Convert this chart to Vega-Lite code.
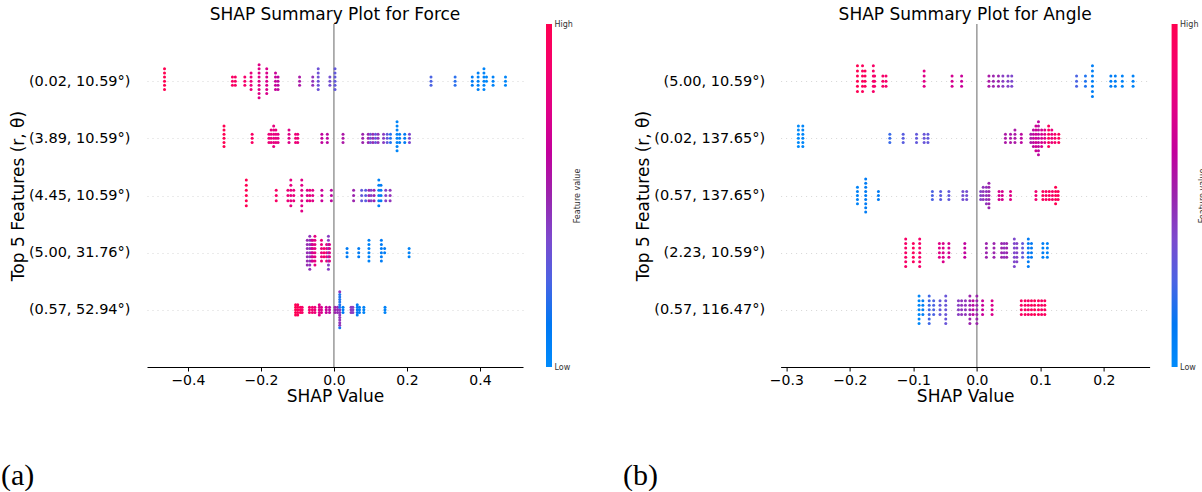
{
"$schema":"https://vega.github.io/schema/vega-lite/v6.json",
"background":"white",
"padding":{"left":1,"top":6,"right":0,"bottom":0},
"config":{"font":"DejaVu Sans","view":{"stroke":null},"axis":{"labelFont":"DejaVu Sans","titleFont":"DejaVu Sans"}},
"datasets":{
"F":[
{"x":-0.464,"y":4,"c":1},{"x":-0.464,"y":4.072,"c":1},{"x":-0.464,"y":3.928,"c":1},{"x":-0.464,"y":4.144,"c":1},{"x":-0.464,"y":3.856,"c":1},{"x":-0.464,"y":4.216,"c":1},
{"x":-0.278,"y":4,"c":0.92},{"x":-0.278,"y":4.072,"c":0.92},{"x":-0.278,"y":3.928,"c":0.92},
{"x":-0.27,"y":4,"c":0.92},{"x":-0.27,"y":4.072,"c":0.92},{"x":-0.27,"y":3.928,"c":0.92},
{"x":-0.244,"y":4,"c":0.88},{"x":-0.244,"y":4.072,"c":0.88},{"x":-0.244,"y":3.928,"c":0.88},
{"x":-0.227,"y":4,"c":0.8},{"x":-0.227,"y":4.072,"c":0.8},{"x":-0.227,"y":3.928,"c":0.8},{"x":-0.227,"y":4.144,"c":0.8},{"x":-0.227,"y":3.856,"c":0.8},
{"x":-0.205,"y":4,"c":0.75},{"x":-0.205,"y":4.072,"c":0.75},{"x":-0.205,"y":3.928,"c":0.75},{"x":-0.205,"y":4.144,"c":0.75},{"x":-0.205,"y":3.856,"c":0.75},{"x":-0.205,"y":4.216,"c":0.75},{"x":-0.205,"y":3.784,"c":0.75},{"x":-0.205,"y":4.288,"c":0.75},{"x":-0.205,"y":3.712,"c":0.75},
{"x":-0.184,"y":4,"c":0.72},{"x":-0.184,"y":4.072,"c":0.72},{"x":-0.184,"y":3.928,"c":0.72},{"x":-0.184,"y":4.144,"c":0.72},{"x":-0.184,"y":3.856,"c":0.72},{"x":-0.184,"y":4.216,"c":0.72},{"x":-0.184,"y":3.784,"c":0.72},
{"x":-0.16,"y":4,"c":0.65},{"x":-0.16,"y":4.072,"c":0.65},{"x":-0.16,"y":3.928,"c":0.65},{"x":-0.16,"y":4.144,"c":0.65},{"x":-0.16,"y":3.856,"c":0.65},
{"x":-0.153,"y":4,"c":0.6},{"x":-0.153,"y":4.072,"c":0.6},{"x":-0.153,"y":3.928,"c":0.6},{"x":-0.153,"y":3.856,"c":0.6},
{"x":-0.094,"y":4,"c":0.55},{"x":-0.094,"y":4.072,"c":0.55},{"x":-0.094,"y":3.928,"c":0.55},
{"x":-0.058,"y":4,"c":0.45},{"x":-0.058,"y":4.072,"c":0.45},{"x":-0.058,"y":3.928,"c":0.45},
{"x":-0.043,"y":4,"c":0.33},{"x":-0.043,"y":4.072,"c":0.33},{"x":-0.043,"y":3.928,"c":0.33},{"x":-0.043,"y":4.144,"c":0.33},{"x":-0.043,"y":3.856,"c":0.33},{"x":-0.043,"y":4.216,"c":0.33},
{"x":-0.011,"y":4,"c":0.35},{"x":-0.011,"y":4.072,"c":0.35},{"x":-0.011,"y":3.928,"c":0.35},
{"x":0.003,"y":4,"c":0.3},{"x":0.003,"y":4.072,"c":0.3},{"x":0.003,"y":3.928,"c":0.3},{"x":0.003,"y":4.144,"c":0.3},{"x":0.003,"y":3.856,"c":0.3},{"x":0.003,"y":4.216,"c":0.3},
{"x":0.266,"y":4,"c":0.25},{"x":0.266,"y":4.072,"c":0.25},{"x":0.266,"y":3.928,"c":0.25},
{"x":0.332,"y":4,"c":0.17},{"x":0.332,"y":4.072,"c":0.17},{"x":0.332,"y":3.928,"c":0.17},
{"x":0.379,"y":4,"c":0.1},{"x":0.379,"y":4.072,"c":0.1},{"x":0.379,"y":3.928,"c":0.1},
{"x":0.395,"y":4,"c":0.06},{"x":0.395,"y":4.072,"c":0.06},{"x":0.395,"y":3.928,"c":0.06},{"x":0.395,"y":4.144,"c":0.06},{"x":0.395,"y":3.856,"c":0.06},
{"x":0.411,"y":4,"c":0.04},{"x":0.411,"y":4.072,"c":0.04},{"x":0.411,"y":3.928,"c":0.04},{"x":0.411,"y":4.144,"c":0.04},{"x":0.411,"y":3.856,"c":0.04},{"x":0.411,"y":4.216,"c":0.04},
{"x":0.418,"y":4,"c":0.02},{"x":0.418,"y":4.072,"c":0.02},
{"x":0.436,"y":4,"c":0.05},{"x":0.436,"y":4.072,"c":0.05},{"x":0.436,"y":3.928,"c":0.05},
{"x":0.47,"y":4,"c":0.03},{"x":0.47,"y":4.072,"c":0.03},{"x":0.47,"y":3.928,"c":0.03},

{"x":-0.301,"y":3,"c":1},{"x":-0.301,"y":3.072,"c":1},{"x":-0.301,"y":2.928,"c":1},{"x":-0.301,"y":3.144,"c":1},{"x":-0.301,"y":2.856,"c":1},{"x":-0.301,"y":3.216,"c":1},
{"x":-0.224,"y":3,"c":0.92},{"x":-0.224,"y":3.072,"c":0.92},{"x":-0.224,"y":2.928,"c":0.92},
{"x":-0.178,"y":3,"c":0.82},{"x":-0.178,"y":3.072,"c":0.82},{"x":-0.178,"y":2.928,"c":0.82},
{"x":-0.172,"y":3,"c":0.8},{"x":-0.172,"y":3.072,"c":0.8},{"x":-0.172,"y":2.928,"c":0.8},{"x":-0.172,"y":3.144,"c":0.8},
{"x":-0.165,"y":3,"c":0.78},{"x":-0.165,"y":3.072,"c":0.78},{"x":-0.165,"y":2.928,"c":0.78},{"x":-0.165,"y":3.144,"c":0.78},{"x":-0.165,"y":2.856,"c":0.78},{"x":-0.165,"y":3.216,"c":0.78},
{"x":-0.159,"y":3,"c":0.8},{"x":-0.159,"y":3.072,"c":0.8},{"x":-0.159,"y":2.928,"c":0.8},{"x":-0.159,"y":3.144,"c":0.8},
{"x":-0.153,"y":3,"c":0.76},{"x":-0.153,"y":3.072,"c":0.76},{"x":-0.153,"y":2.928,"c":0.76},
{"x":-0.123,"y":3,"c":0.74},{"x":-0.123,"y":3.072,"c":0.74},{"x":-0.123,"y":2.928,"c":0.74},{"x":-0.123,"y":3.144,"c":0.74},
{"x":-0.105,"y":3,"c":0.85},{"x":-0.105,"y":3.072,"c":0.85},{"x":-0.105,"y":2.928,"c":0.85},
{"x":-0.099,"y":3,"c":0.8},{"x":-0.099,"y":3.072,"c":0.8},{"x":-0.099,"y":2.928,"c":0.8},
{"x":-0.033,"y":3,"c":0.62},{"x":-0.033,"y":3.072,"c":0.62},{"x":-0.033,"y":2.928,"c":0.62},
{"x":-0.018,"y":3,"c":0.6},{"x":-0.018,"y":3.072,"c":0.6},{"x":-0.018,"y":2.928,"c":0.6},
{"x":0.025,"y":3,"c":0.55},{"x":0.025,"y":3.072,"c":0.55},{"x":0.025,"y":2.928,"c":0.55},
{"x":0.079,"y":3,"c":0.5},{"x":0.079,"y":3.072,"c":0.5},{"x":0.079,"y":2.928,"c":0.5},
{"x":0.094,"y":3,"c":0.5},{"x":0.094,"y":3.072,"c":0.5},{"x":0.094,"y":2.928,"c":0.5},
{"x":0.1,"y":3,"c":0.33},{"x":0.1,"y":3.072,"c":0.33},{"x":0.1,"y":2.928,"c":0.33},
{"x":0.107,"y":3,"c":0.48},{"x":0.107,"y":3.072,"c":0.48},{"x":0.107,"y":2.928,"c":0.48},
{"x":0.114,"y":3,"c":0.3},{"x":0.114,"y":3.072,"c":0.3},{"x":0.114,"y":2.928,"c":0.3},
{"x":0.121,"y":3,"c":0.45},{"x":0.121,"y":3.072,"c":0.45},{"x":0.121,"y":2.928,"c":0.45},
{"x":0.136,"y":3,"c":0.42},{"x":0.136,"y":3.072,"c":0.42},{"x":0.136,"y":2.928,"c":0.42},
{"x":0.146,"y":3,"c":0.3},{"x":0.146,"y":3.072,"c":0.3},{"x":0.146,"y":2.928,"c":0.3},
{"x":0.155,"y":3,"c":0.15},{"x":0.155,"y":3.072,"c":0.15},{"x":0.155,"y":2.928,"c":0.15},
{"x":0.173,"y":3,"c":0.03},{"x":0.173,"y":3.072,"c":0.03},{"x":0.173,"y":2.928,"c":0.03},{"x":0.173,"y":3.144,"c":0.03},{"x":0.173,"y":2.856,"c":0.03},{"x":0.173,"y":3.216,"c":0.03},{"x":0.173,"y":2.784,"c":0.03},{"x":0.173,"y":3.288,"c":0.03},
{"x":0.18,"y":3,"c":0.08},{"x":0.18,"y":3.072,"c":0.08},{"x":0.18,"y":2.928,"c":0.08},
{"x":0.194,"y":3,"c":0.1},{"x":0.194,"y":3.072,"c":0.1},{"x":0.194,"y":2.928,"c":0.1},
{"x":0.207,"y":3,"c":0.38},{"x":0.207,"y":3.072,"c":0.38},{"x":0.207,"y":2.928,"c":0.38},

{"x":-0.24,"y":2,"c":1},{"x":-0.24,"y":2.09,"c":1},{"x":-0.24,"y":1.91,"c":1},{"x":-0.24,"y":2.18,"c":1},{"x":-0.24,"y":1.82,"c":1},{"x":-0.24,"y":2.27,"c":1},
{"x":-0.158,"y":2,"c":0.92},{"x":-0.158,"y":2.09,"c":0.92},{"x":-0.158,"y":1.91,"c":0.92},
{"x":-0.126,"y":2,"c":0.82},{"x":-0.126,"y":2.09,"c":0.82},{"x":-0.126,"y":1.91,"c":0.82},
{"x":-0.118,"y":2,"c":0.78},{"x":-0.118,"y":2.09,"c":0.78},{"x":-0.118,"y":1.91,"c":0.78},{"x":-0.118,"y":2.18,"c":0.78},{"x":-0.118,"y":1.82,"c":0.78},{"x":-0.118,"y":2.27,"c":0.78},
{"x":-0.11,"y":2,"c":0.8},{"x":-0.11,"y":2.09,"c":0.8},{"x":-0.11,"y":1.91,"c":0.8},
{"x":-0.088,"y":2,"c":0.75},{"x":-0.088,"y":2.09,"c":0.75},{"x":-0.088,"y":1.91,"c":0.75},{"x":-0.088,"y":2.18,"c":0.75},{"x":-0.088,"y":1.82,"c":0.75},{"x":-0.088,"y":2.27,"c":0.75},{"x":-0.088,"y":1.73,"c":0.75},
{"x":-0.073,"y":2,"c":0.72},{"x":-0.073,"y":2.09,"c":0.72},{"x":-0.073,"y":1.91,"c":0.72},
{"x":-0.066,"y":2,"c":0.8},{"x":-0.066,"y":2.09,"c":0.8},{"x":-0.066,"y":1.91,"c":0.8},
{"x":-0.058,"y":2,"c":0.75},{"x":-0.058,"y":2.09,"c":0.75},{"x":-0.058,"y":1.91,"c":0.75},
{"x":-0.033,"y":2,"c":0.65},{"x":-0.033,"y":2.09,"c":0.65},{"x":-0.033,"y":1.91,"c":0.65},
{"x":-0.007,"y":2,"c":0.6},{"x":-0.007,"y":2.09,"c":0.6},{"x":-0.007,"y":1.91,"c":0.6},
{"x":0.054,"y":2,"c":0.5},{"x":0.054,"y":2.09,"c":0.5},{"x":0.054,"y":1.91,"c":0.5},
{"x":0.076,"y":2,"c":0.3},{"x":0.076,"y":2.09,"c":0.3},{"x":0.076,"y":1.91,"c":0.3},
{"x":0.087,"y":2,"c":0.28},{"x":0.087,"y":2.09,"c":0.28},{"x":0.087,"y":1.91,"c":0.28},
{"x":0.096,"y":2,"c":0.5},{"x":0.096,"y":2.09,"c":0.5},{"x":0.096,"y":1.91,"c":0.5},
{"x":0.102,"y":2,"c":0.4},{"x":0.102,"y":2.09,"c":0.4},{"x":0.102,"y":1.91,"c":0.4},
{"x":0.11,"y":2,"c":0.5},{"x":0.11,"y":2.09,"c":0.5},{"x":0.11,"y":1.91,"c":0.5},
{"x":0.123,"y":2,"c":0.05},{"x":0.123,"y":2.09,"c":0.05},{"x":0.123,"y":1.91,"c":0.05},{"x":0.123,"y":2.18,"c":0.05},{"x":0.123,"y":1.82,"c":0.05},{"x":0.123,"y":2.27,"c":0.05},
{"x":0.129,"y":2,"c":0.1},{"x":0.129,"y":2.09,"c":0.1},{"x":0.129,"y":1.91,"c":0.1},{"x":0.129,"y":2.18,"c":0.1},
{"x":0.142,"y":2,"c":0.4},{"x":0.142,"y":2.09,"c":0.4},{"x":0.142,"y":1.91,"c":0.4},
{"x":0.154,"y":2,"c":0.45},{"x":0.154,"y":2.09,"c":0.45},{"x":0.154,"y":1.91,"c":0.45},

{"x":-0.073,"y":1,"c":0.48},{"x":-0.073,"y":1.072,"c":0.48},{"x":-0.073,"y":0.928,"c":0.48},{"x":-0.073,"y":1.144,"c":0.48},{"x":-0.073,"y":0.856,"c":0.48},{"x":-0.073,"y":1.216,"c":0.48},{"x":-0.073,"y":0.784,"c":0.48},
{"x":-0.066,"y":1,"c":0.45},{"x":-0.066,"y":1.072,"c":0.45},{"x":-0.066,"y":0.928,"c":0.45},{"x":-0.066,"y":1.144,"c":0.45},{"x":-0.066,"y":0.856,"c":0.45},{"x":-0.066,"y":1.216,"c":0.45},{"x":-0.066,"y":0.784,"c":0.45},{"x":-0.066,"y":1.288,"c":0.45},{"x":-0.066,"y":0.712,"c":0.45},
{"x":-0.061,"y":1,"c":0.6},{"x":-0.061,"y":1.072,"c":0.6},{"x":-0.061,"y":0.928,"c":0.6},{"x":-0.061,"y":1.144,"c":0.6},{"x":-0.061,"y":0.856,"c":0.6},{"x":-0.061,"y":1.216,"c":0.6},
{"x":-0.058,"y":1,"c":0.7},{"x":-0.058,"y":1.072,"c":0.7},{"x":-0.058,"y":0.928,"c":0.7},{"x":-0.058,"y":1.144,"c":0.7},{"x":-0.058,"y":0.856,"c":0.7},{"x":-0.058,"y":1.216,"c":0.7},
{"x":-0.052,"y":1,"c":0.78},{"x":-0.052,"y":1.072,"c":0.78},{"x":-0.052,"y":0.928,"c":0.78},{"x":-0.052,"y":1.144,"c":0.78},{"x":-0.052,"y":0.856,"c":0.78},{"x":-0.052,"y":1.216,"c":0.78},{"x":-0.052,"y":0.784,"c":0.78},{"x":-0.052,"y":1.288,"c":0.78},
{"x":-0.034,"y":1,"c":0.8},{"x":-0.034,"y":1.072,"c":0.8},{"x":-0.034,"y":0.928,"c":0.8},{"x":-0.034,"y":1.144,"c":0.8},{"x":-0.034,"y":0.856,"c":0.8},{"x":-0.034,"y":1.216,"c":0.8},
{"x":-0.027,"y":1,"c":0.88},{"x":-0.027,"y":1.072,"c":0.88},{"x":-0.027,"y":0.928,"c":0.88},
{"x":-0.02,"y":1,"c":0.82},{"x":-0.02,"y":1.072,"c":0.82},{"x":-0.02,"y":0.928,"c":0.82},{"x":-0.02,"y":1.144,"c":0.82},{"x":-0.02,"y":0.856,"c":0.82},
{"x":-0.015,"y":1,"c":0.42},{"x":-0.015,"y":1.072,"c":0.42},{"x":-0.015,"y":0.928,"c":0.42},{"x":-0.015,"y":1.144,"c":0.42},{"x":-0.015,"y":0.856,"c":0.42},{"x":-0.015,"y":1.216,"c":0.42},{"x":-0.015,"y":0.784,"c":0.42},{"x":-0.015,"y":1.288,"c":0.42},{"x":-0.015,"y":0.712,"c":0.42},
{"x":-0.012,"y":1,"c":0.75},{"x":-0.012,"y":1.072,"c":0.75},{"x":-0.012,"y":0.928,"c":0.75},{"x":-0.012,"y":1.144,"c":0.75},{"x":-0.012,"y":0.856,"c":0.75},
{"x":0.036,"y":1,"c":0.1},{"x":0.036,"y":1.072,"c":0.1},{"x":0.036,"y":0.928,"c":0.1},
{"x":0.068,"y":1,"c":0.1},{"x":0.068,"y":1.072,"c":0.1},{"x":0.068,"y":0.928,"c":0.1},
{"x":0.096,"y":1,"c":0.05},{"x":0.096,"y":1.072,"c":0.05},{"x":0.096,"y":0.928,"c":0.05},{"x":0.096,"y":1.144,"c":0.05},{"x":0.096,"y":0.856,"c":0.05},{"x":0.096,"y":1.216,"c":0.05},
{"x":0.13,"y":1,"c":0.1},{"x":0.13,"y":1.072,"c":0.1},{"x":0.13,"y":0.928,"c":0.1},{"x":0.13,"y":1.144,"c":0.1},{"x":0.13,"y":0.856,"c":0.1},{"x":0.13,"y":1.216,"c":0.1},
{"x":0.139,"y":1,"c":0.1},{"x":0.139,"y":1.072,"c":0.1},
{"x":0.206,"y":1,"c":0.05},{"x":0.206,"y":1.072,"c":0.05},{"x":0.206,"y":0.928,"c":0.05},

{"x":-0.105,"y":0,"c":1},{"x":-0.105,"y":0.045,"c":1},{"x":-0.105,"y":-0.045,"c":1},{"x":-0.105,"y":0.09,"c":1},{"x":-0.105,"y":-0.09,"c":1},
{"x":-0.099,"y":0,"c":0.95},{"x":-0.099,"y":0.045,"c":0.95},{"x":-0.099,"y":-0.045,"c":0.95},{"x":-0.099,"y":0.09,"c":0.95},{"x":-0.099,"y":-0.09,"c":0.95},
{"x":-0.092,"y":0,"c":0.95},{"x":-0.092,"y":0.045,"c":0.95},{"x":-0.092,"y":-0.045,"c":0.95},
{"x":-0.087,"y":0,"c":0.9},{"x":-0.087,"y":0.045,"c":0.9},{"x":-0.087,"y":-0.045,"c":0.9},
{"x":-0.067,"y":0,"c":0.88},{"x":-0.067,"y":0.045,"c":0.88},{"x":-0.067,"y":-0.045,"c":0.88},
{"x":-0.059,"y":0,"c":0.85},{"x":-0.059,"y":0.045,"c":0.85},{"x":-0.059,"y":-0.045,"c":0.85},
{"x":-0.052,"y":0,"c":0.82},{"x":-0.052,"y":0.045,"c":0.82},{"x":-0.052,"y":-0.045,"c":0.82},
{"x":-0.04,"y":0,"c":0.75},{"x":-0.04,"y":0.045,"c":0.75},{"x":-0.04,"y":-0.045,"c":0.75},{"x":-0.04,"y":0.09,"c":0.75},{"x":-0.04,"y":-0.09,"c":0.75},
{"x":-0.034,"y":0,"c":0.72},{"x":-0.034,"y":0.045,"c":0.72},{"x":-0.034,"y":-0.045,"c":0.72},
{"x":-0.021,"y":0,"c":0.65},{"x":-0.021,"y":0.045,"c":0.65},{"x":-0.021,"y":-0.045,"c":0.65},
{"x":-0.012,"y":0,"c":0.6},{"x":-0.012,"y":0.045,"c":0.6},{"x":-0.012,"y":-0.045,"c":0.6},
{"x":0.003,"y":0,"c":0.5},{"x":0.003,"y":0.045,"c":0.5},{"x":0.003,"y":-0.045,"c":0.5},
{"x":0.01,"y":0,"c":0.48},{"x":0.01,"y":0.045,"c":0.48},{"x":0.01,"y":-0.045,"c":0.48},
{"x":0.016,"y":0,"c":0.45},{"x":0.016,"y":0.045,"c":0.15},{"x":0.016,"y":-0.045,"c":0.45},{"x":0.016,"y":0.09,"c":0.15},{"x":0.016,"y":-0.09,"c":0.45},{"x":0.016,"y":0.135,"c":0.15},{"x":0.016,"y":-0.135,"c":0.45},{"x":0.016,"y":0.18,"c":0.15},{"x":0.016,"y":-0.18,"c":0.45},{"x":0.016,"y":0.225,"c":0.15},{"x":0.016,"y":-0.225,"c":0.45},{"x":0.016,"y":0.27,"c":0.15},{"x":0.016,"y":-0.27,"c":0.45},{"x":0.016,"y":0.315,"c":0.45},{"x":0.016,"y":-0.315,"c":0.15},
{"x":0.025,"y":0,"c":0.1},{"x":0.025,"y":0.045,"c":0.1},{"x":0.025,"y":-0.045,"c":0.1},
{"x":0.047,"y":0,"c":0.45},{"x":0.047,"y":0.045,"c":0.45},{"x":0.047,"y":-0.045,"c":0.45},
{"x":0.052,"y":0,"c":0.42},{"x":0.052,"y":0.045,"c":0.42},{"x":0.052,"y":-0.045,"c":0.42},
{"x":0.064,"y":0,"c":0.1},{"x":0.064,"y":0.045,"c":0.1},{"x":0.064,"y":-0.045,"c":0.1},{"x":0.064,"y":0.09,"c":0.1},{"x":0.064,"y":-0.09,"c":0.1},
{"x":0.07,"y":0,"c":0.08},{"x":0.07,"y":0.045,"c":0.08},{"x":0.07,"y":-0.045,"c":0.08},
{"x":0.082,"y":0,"c":0.05},{"x":0.082,"y":0.045,"c":0.05},{"x":0.082,"y":-0.045,"c":0.05},
{"x":0.14,"y":0,"c":0.05},{"x":0.14,"y":0.045,"c":0.05},{"x":0.14,"y":-0.045,"c":0.05}
],
"A":[
{"x":-0.188,"y":4,"c":1},{"x":-0.188,"y":4.09,"c":1},{"x":-0.188,"y":3.91,"c":1},{"x":-0.188,"y":4.18,"c":1},{"x":-0.188,"y":3.82,"c":1},{"x":-0.188,"y":4.27,"c":1},
{"x":-0.18,"y":4,"c":0.95},{"x":-0.18,"y":4.09,"c":0.95},{"x":-0.18,"y":3.91,"c":0.95},{"x":-0.18,"y":4.18,"c":0.95},{"x":-0.18,"y":3.82,"c":0.95},{"x":-0.18,"y":4.27,"c":0.95},
{"x":-0.176,"y":4,"c":0.95},{"x":-0.176,"y":4.09,"c":0.95},{"x":-0.176,"y":3.91,"c":0.95},{"x":-0.176,"y":4.18,"c":0.95},
{"x":-0.163,"y":4,"c":0.9},{"x":-0.163,"y":4.09,"c":0.9},{"x":-0.163,"y":3.91,"c":0.9},{"x":-0.163,"y":4.18,"c":0.9},{"x":-0.163,"y":3.82,"c":0.9},{"x":-0.163,"y":4.27,"c":0.9},
{"x":-0.161,"y":4,"c":0.88},{"x":-0.161,"y":4.09,"c":0.88},{"x":-0.161,"y":3.91,"c":0.88},
{"x":-0.148,"y":4,"c":0.9},{"x":-0.148,"y":4.09,"c":0.9},{"x":-0.148,"y":3.91,"c":0.9},
{"x":-0.143,"y":4,"c":0.88},{"x":-0.143,"y":4.09,"c":0.88},{"x":-0.143,"y":3.91,"c":0.88},
{"x":-0.083,"y":4,"c":0.75},{"x":-0.083,"y":4.09,"c":0.75},{"x":-0.083,"y":3.91,"c":0.75},{"x":-0.083,"y":4.18,"c":0.75},
{"x":-0.039,"y":4,"c":0.7},{"x":-0.039,"y":4.09,"c":0.7},{"x":-0.039,"y":3.91,"c":0.7},
{"x":-0.024,"y":4,"c":0.65},{"x":-0.024,"y":4.09,"c":0.65},{"x":-0.024,"y":3.91,"c":0.65},
{"x":0.019,"y":4,"c":0.55},{"x":0.019,"y":4.09,"c":0.55},{"x":0.019,"y":3.91,"c":0.55},
{"x":0.026,"y":4,"c":0.5},{"x":0.026,"y":4.09,"c":0.5},{"x":0.026,"y":3.91,"c":0.5},
{"x":0.034,"y":4,"c":0.5},{"x":0.034,"y":4.09,"c":0.5},{"x":0.034,"y":3.91,"c":0.5},
{"x":0.041,"y":4,"c":0.42},{"x":0.041,"y":4.09,"c":0.42},{"x":0.041,"y":3.91,"c":0.42},
{"x":0.049,"y":4,"c":0.4},{"x":0.049,"y":4.09,"c":0.4},{"x":0.049,"y":3.91,"c":0.4},
{"x":0.055,"y":4,"c":0.38},{"x":0.055,"y":4.09,"c":0.38},{"x":0.055,"y":3.91,"c":0.38},
{"x":0.157,"y":4,"c":0.25},{"x":0.157,"y":4.09,"c":0.25},{"x":0.157,"y":3.91,"c":0.25},
{"x":0.171,"y":4,"c":0.15},{"x":0.171,"y":4.09,"c":0.15},{"x":0.171,"y":3.91,"c":0.15},
{"x":0.182,"y":4,"c":0.08},{"x":0.182,"y":4.09,"c":0.08},{"x":0.182,"y":3.91,"c":0.08},{"x":0.182,"y":4.18,"c":0.08},{"x":0.182,"y":3.82,"c":0.08},{"x":0.182,"y":4.27,"c":0.08},{"x":0.182,"y":3.73,"c":0.08},
{"x":0.211,"y":4,"c":0.1},{"x":0.211,"y":4.09,"c":0.1},{"x":0.211,"y":3.91,"c":0.1},
{"x":0.218,"y":4,"c":0.08},{"x":0.218,"y":4.09,"c":0.08},{"x":0.218,"y":3.91,"c":0.08},
{"x":0.229,"y":4,"c":0.05},{"x":0.229,"y":4.09,"c":0.05},{"x":0.229,"y":3.91,"c":0.05},
{"x":0.246,"y":4,"c":0.05},{"x":0.246,"y":4.09,"c":0.05},{"x":0.246,"y":3.91,"c":0.05},

{"x":-0.281,"y":3,"c":0},{"x":-0.281,"y":3.072,"c":0},{"x":-0.281,"y":2.928,"c":0},{"x":-0.281,"y":3.144,"c":0},{"x":-0.281,"y":2.856,"c":0},{"x":-0.281,"y":3.216,"c":0},
{"x":-0.274,"y":3,"c":0.03},{"x":-0.274,"y":3.072,"c":0.03},{"x":-0.274,"y":2.928,"c":0.03},{"x":-0.274,"y":3.144,"c":0.03},{"x":-0.274,"y":2.856,"c":0.03},{"x":-0.274,"y":3.216,"c":0.03},
{"x":-0.137,"y":3,"c":0.2},{"x":-0.137,"y":3.072,"c":0.2},{"x":-0.137,"y":2.928,"c":0.2},
{"x":-0.116,"y":3,"c":0.28},{"x":-0.116,"y":3.072,"c":0.28},{"x":-0.116,"y":2.928,"c":0.28},
{"x":-0.095,"y":3,"c":0.3},{"x":-0.095,"y":3.072,"c":0.3},{"x":-0.095,"y":2.928,"c":0.3},
{"x":-0.083,"y":3,"c":0.32},{"x":-0.083,"y":3.072,"c":0.32},{"x":-0.083,"y":2.928,"c":0.32},
{"x":-0.077,"y":3,"c":0.3},{"x":-0.077,"y":3.072,"c":0.3},{"x":-0.077,"y":2.928,"c":0.3},
{"x":0.045,"y":3,"c":0.55},{"x":0.045,"y":3.072,"c":0.55},{"x":0.045,"y":2.928,"c":0.55},
{"x":0.053,"y":3,"c":0.55},{"x":0.053,"y":3.072,"c":0.55},{"x":0.053,"y":2.928,"c":0.55},
{"x":0.06,"y":3,"c":0.55},{"x":0.06,"y":3.072,"c":0.55},{"x":0.06,"y":2.928,"c":0.55},{"x":0.06,"y":3.144,"c":0.55},
{"x":0.07,"y":3,"c":0.6},{"x":0.07,"y":3.072,"c":0.6},{"x":0.07,"y":2.928,"c":0.6},
{"x":0.085,"y":3,"c":0.55},{"x":0.085,"y":3.072,"c":0.55},{"x":0.085,"y":2.928,"c":0.55},
{"x":0.089,"y":3,"c":0.6},{"x":0.089,"y":3.072,"c":0.6},{"x":0.089,"y":2.928,"c":0.6},{"x":0.089,"y":3.144,"c":0.6},{"x":0.089,"y":2.856,"c":0.6},
{"x":0.093,"y":3,"c":0.68},{"x":0.093,"y":3.072,"c":0.68},{"x":0.093,"y":2.928,"c":0.68},{"x":0.093,"y":3.144,"c":0.68},{"x":0.093,"y":2.856,"c":0.68},{"x":0.093,"y":3.216,"c":0.68},{"x":0.093,"y":2.784,"c":0.68},
{"x":0.097,"y":3,"c":0.6},{"x":0.097,"y":3.072,"c":0.6},{"x":0.097,"y":2.928,"c":0.6},{"x":0.097,"y":3.144,"c":0.6},{"x":0.097,"y":2.856,"c":0.6},{"x":0.097,"y":3.216,"c":0.6},{"x":0.097,"y":2.784,"c":0.6},{"x":0.097,"y":3.288,"c":0.6},{"x":0.097,"y":2.712,"c":0.6},
{"x":0.102,"y":3,"c":0.7},{"x":0.102,"y":3.072,"c":0.7},{"x":0.102,"y":2.928,"c":0.7},{"x":0.102,"y":3.144,"c":0.7},{"x":0.102,"y":2.856,"c":0.7},
{"x":0.107,"y":3,"c":0.75},{"x":0.107,"y":3.072,"c":0.75},{"x":0.107,"y":2.928,"c":0.75},{"x":0.107,"y":3.144,"c":0.75},
{"x":0.113,"y":3,"c":0.95},{"x":0.113,"y":3.072,"c":0.95},{"x":0.113,"y":2.928,"c":0.95},{"x":0.113,"y":3.144,"c":0.95},{"x":0.113,"y":2.856,"c":0.95},{"x":0.113,"y":3.216,"c":0.95},
{"x":0.118,"y":3,"c":0.8},{"x":0.118,"y":3.072,"c":0.8},{"x":0.118,"y":2.928,"c":0.8},{"x":0.118,"y":3.144,"c":0.8},
{"x":0.123,"y":3,"c":0.9},{"x":0.123,"y":3.072,"c":0.9},{"x":0.123,"y":2.928,"c":0.9},
{"x":0.129,"y":3,"c":0.95},{"x":0.129,"y":3.072,"c":0.95},{"x":0.129,"y":2.928,"c":0.95},

{"x":-0.188,"y":2,"c":0.05},{"x":-0.188,"y":2.072,"c":0.05},{"x":-0.188,"y":1.928,"c":0.05},{"x":-0.188,"y":2.144,"c":0.05},{"x":-0.188,"y":1.856,"c":0.05},
{"x":-0.175,"y":2,"c":0.1},{"x":-0.175,"y":2.072,"c":0.1},{"x":-0.175,"y":1.928,"c":0.1},{"x":-0.175,"y":2.144,"c":0.1},{"x":-0.175,"y":1.856,"c":0.1},{"x":-0.175,"y":2.216,"c":0.1},{"x":-0.175,"y":1.784,"c":0.1},{"x":-0.175,"y":2.288,"c":0.1},{"x":-0.175,"y":1.712,"c":0.1},
{"x":-0.155,"y":2,"c":0.1},{"x":-0.155,"y":2.072,"c":0.1},{"x":-0.155,"y":1.928,"c":0.1},
{"x":-0.07,"y":2,"c":0.25},{"x":-0.07,"y":2.072,"c":0.25},{"x":-0.07,"y":1.928,"c":0.25},
{"x":-0.057,"y":2,"c":0.28},{"x":-0.057,"y":2.072,"c":0.28},{"x":-0.057,"y":1.928,"c":0.28},
{"x":-0.044,"y":2,"c":0.3},{"x":-0.044,"y":2.072,"c":0.3},{"x":-0.044,"y":1.928,"c":0.3},
{"x":-0.022,"y":2,"c":0.35},{"x":-0.022,"y":2.072,"c":0.35},{"x":-0.022,"y":1.928,"c":0.35},
{"x":-0.016,"y":2,"c":0.35},{"x":-0.016,"y":2.072,"c":0.35},{"x":-0.016,"y":1.928,"c":0.35},
{"x":0.006,"y":2,"c":0.4},{"x":0.006,"y":2.072,"c":0.4},{"x":0.006,"y":1.928,"c":0.4},
{"x":0.01,"y":2,"c":0.45},{"x":0.01,"y":2.072,"c":0.45},{"x":0.01,"y":1.928,"c":0.45},{"x":0.01,"y":2.144,"c":0.45},
{"x":0.015,"y":2,"c":0.45},{"x":0.015,"y":2.072,"c":0.45},{"x":0.015,"y":1.928,"c":0.45},{"x":0.015,"y":2.144,"c":0.45},{"x":0.015,"y":1.856,"c":0.45},
{"x":0.019,"y":2,"c":0.5},{"x":0.019,"y":2.072,"c":0.5},{"x":0.019,"y":1.928,"c":0.5},{"x":0.019,"y":2.144,"c":0.5},{"x":0.019,"y":1.856,"c":0.5},{"x":0.019,"y":2.216,"c":0.5},{"x":0.019,"y":1.784,"c":0.5},
{"x":0.035,"y":2,"c":0.7},{"x":0.035,"y":2.072,"c":0.7},{"x":0.035,"y":1.928,"c":0.7},
{"x":0.04,"y":2,"c":0.7},{"x":0.04,"y":2.072,"c":0.7},{"x":0.04,"y":1.928,"c":0.7},
{"x":0.053,"y":2,"c":0.75},{"x":0.053,"y":2.072,"c":0.75},{"x":0.053,"y":1.928,"c":0.75},
{"x":0.093,"y":2,"c":0.85},{"x":0.093,"y":2.072,"c":0.85},{"x":0.093,"y":1.928,"c":0.85},
{"x":0.104,"y":2,"c":0.95},{"x":0.104,"y":2.072,"c":0.95},{"x":0.104,"y":1.928,"c":0.95},
{"x":0.109,"y":2,"c":0.92},{"x":0.109,"y":2.072,"c":0.92},{"x":0.109,"y":1.928,"c":0.92},
{"x":0.114,"y":2,"c":0.95},{"x":0.114,"y":2.072,"c":0.95},{"x":0.114,"y":1.928,"c":0.95},
{"x":0.119,"y":2,"c":0.9},{"x":0.119,"y":2.072,"c":0.9},{"x":0.119,"y":1.928,"c":0.9},
{"x":0.124,"y":2,"c":1},{"x":0.124,"y":2.072,"c":1},{"x":0.124,"y":1.928,"c":1},{"x":0.124,"y":2.144,"c":1},{"x":0.124,"y":1.856,"c":1},
{"x":0.128,"y":2,"c":0.95},{"x":0.128,"y":2.072,"c":0.95},{"x":0.128,"y":1.928,"c":0.95},

{"x":-0.112,"y":1,"c":0.9},{"x":-0.112,"y":1.08,"c":0.9},{"x":-0.112,"y":0.92,"c":0.9},{"x":-0.112,"y":1.16,"c":0.9},{"x":-0.112,"y":0.84,"c":0.9},{"x":-0.112,"y":1.24,"c":0.9},{"x":-0.112,"y":0.76,"c":0.9},
{"x":-0.1,"y":1,"c":0.95},{"x":-0.1,"y":1.08,"c":0.95},{"x":-0.1,"y":0.92,"c":0.95},{"x":-0.1,"y":1.16,"c":0.95},{"x":-0.1,"y":0.84,"c":0.95},
{"x":-0.09,"y":1,"c":0.88},{"x":-0.09,"y":1.08,"c":0.88},{"x":-0.09,"y":0.92,"c":0.88},{"x":-0.09,"y":1.16,"c":0.88},{"x":-0.09,"y":0.84,"c":0.88},{"x":-0.09,"y":1.24,"c":0.88},{"x":-0.09,"y":0.76,"c":0.88},
{"x":-0.059,"y":1,"c":0.75},{"x":-0.059,"y":1.08,"c":0.75},{"x":-0.059,"y":0.92,"c":0.75},{"x":-0.059,"y":1.16,"c":0.75},
{"x":-0.053,"y":1,"c":0.72},{"x":-0.053,"y":1.08,"c":0.72},{"x":-0.053,"y":0.92,"c":0.72},{"x":-0.053,"y":1.16,"c":0.72},{"x":-0.053,"y":0.84,"c":0.72},
{"x":-0.044,"y":1,"c":0.7},{"x":-0.044,"y":1.08,"c":0.7},{"x":-0.044,"y":0.92,"c":0.7},{"x":-0.044,"y":1.16,"c":0.7},
{"x":-0.019,"y":1,"c":0.62},{"x":-0.019,"y":1.08,"c":0.62},{"x":-0.019,"y":0.92,"c":0.62},{"x":-0.019,"y":1.16,"c":0.62},
{"x":0.015,"y":1,"c":0.5},{"x":0.015,"y":1.08,"c":0.5},{"x":0.015,"y":0.92,"c":0.5},{"x":0.015,"y":1.16,"c":0.5},
{"x":0.027,"y":1,"c":0.5},{"x":0.027,"y":1.08,"c":0.5},{"x":0.027,"y":0.92,"c":0.5},{"x":0.027,"y":1.16,"c":0.5},
{"x":0.039,"y":1,"c":0.5},{"x":0.039,"y":1.08,"c":0.5},{"x":0.039,"y":0.92,"c":0.5},{"x":0.039,"y":1.16,"c":0.5},
{"x":0.043,"y":1,"c":0.45},{"x":0.043,"y":1.08,"c":0.45},{"x":0.043,"y":0.92,"c":0.45},{"x":0.043,"y":1.16,"c":0.45},
{"x":0.047,"y":1,"c":0.5},{"x":0.047,"y":1.08,"c":0.5},{"x":0.047,"y":0.92,"c":0.5},{"x":0.047,"y":1.16,"c":0.5},
{"x":0.059,"y":1,"c":0.38},{"x":0.059,"y":1.08,"c":0.38},{"x":0.059,"y":0.92,"c":0.38},{"x":0.059,"y":1.16,"c":0.38},{"x":0.059,"y":0.84,"c":0.38},{"x":0.059,"y":1.24,"c":0.38},{"x":0.059,"y":0.76,"c":0.38},
{"x":0.063,"y":1,"c":0.4},{"x":0.063,"y":1.08,"c":0.4},{"x":0.063,"y":0.92,"c":0.4},{"x":0.063,"y":1.16,"c":0.4},{"x":0.063,"y":0.84,"c":0.4},
{"x":0.072,"y":1,"c":0.3},{"x":0.072,"y":1.08,"c":0.3},{"x":0.072,"y":0.92,"c":0.3},{"x":0.072,"y":1.16,"c":0.3},
{"x":0.081,"y":1,"c":0.1},{"x":0.081,"y":1.08,"c":0.1},{"x":0.081,"y":0.92,"c":0.1},{"x":0.081,"y":1.16,"c":0.1},{"x":0.081,"y":0.84,"c":0.1},{"x":0.081,"y":1.24,"c":0.1},{"x":0.081,"y":0.76,"c":0.1},
{"x":0.086,"y":1,"c":0.12},{"x":0.086,"y":1.08,"c":0.12},{"x":0.086,"y":0.92,"c":0.12},{"x":0.086,"y":1.16,"c":0.12},
{"x":0.104,"y":1,"c":0.08},{"x":0.104,"y":1.08,"c":0.08},{"x":0.104,"y":0.92,"c":0.08},{"x":0.104,"y":1.16,"c":0.08},
{"x":0.111,"y":1,"c":0.05},{"x":0.111,"y":1.08,"c":0.05},{"x":0.111,"y":0.92,"c":0.05},{"x":0.111,"y":1.16,"c":0.05},

{"x":-0.091,"y":0,"c":0.02},{"x":-0.091,"y":0.08,"c":0.02},{"x":-0.091,"y":-0.08,"c":0.02},{"x":-0.091,"y":0.16,"c":0.02},{"x":-0.091,"y":-0.16,"c":0.02},{"x":-0.091,"y":0.24,"c":0.02},{"x":-0.091,"y":-0.24,"c":0.02},
{"x":-0.085,"y":0,"c":0.08},{"x":-0.085,"y":0.08,"c":0.08},{"x":-0.085,"y":-0.08,"c":0.08},{"x":-0.085,"y":0.16,"c":0.08},
{"x":-0.075,"y":0,"c":0.22},{"x":-0.075,"y":0.08,"c":0.22},{"x":-0.075,"y":-0.08,"c":0.22},{"x":-0.075,"y":0.16,"c":0.22},{"x":-0.075,"y":-0.16,"c":0.22},{"x":-0.075,"y":0.24,"c":0.22},{"x":-0.075,"y":-0.24,"c":0.22},
{"x":-0.068,"y":0,"c":0.25},{"x":-0.068,"y":0.08,"c":0.25},{"x":-0.068,"y":-0.08,"c":0.25},{"x":-0.068,"y":0.16,"c":0.25},
{"x":-0.058,"y":0,"c":0.3},{"x":-0.058,"y":0.08,"c":0.3},{"x":-0.058,"y":-0.08,"c":0.3},{"x":-0.058,"y":0.16,"c":0.3},
{"x":-0.049,"y":0,"c":0.32},{"x":-0.049,"y":0.08,"c":0.32},{"x":-0.049,"y":-0.08,"c":0.32},{"x":-0.049,"y":0.16,"c":0.32},{"x":-0.049,"y":-0.16,"c":0.32},{"x":-0.049,"y":0.24,"c":0.32},{"x":-0.049,"y":-0.24,"c":0.32},
{"x":-0.029,"y":0,"c":0.42},{"x":-0.029,"y":0.08,"c":0.42},{"x":-0.029,"y":-0.08,"c":0.42},{"x":-0.029,"y":0.16,"c":0.42},
{"x":-0.024,"y":0,"c":0.45},{"x":-0.024,"y":0.08,"c":0.45},{"x":-0.024,"y":-0.08,"c":0.45},{"x":-0.024,"y":0.16,"c":0.45},
{"x":-0.018,"y":0,"c":0.45},{"x":-0.018,"y":0.08,"c":0.45},{"x":-0.018,"y":-0.08,"c":0.45},{"x":-0.018,"y":0.16,"c":0.45},
{"x":-0.011,"y":0,"c":0.5},{"x":-0.011,"y":0.08,"c":0.5},{"x":-0.011,"y":-0.08,"c":0.5},{"x":-0.011,"y":0.16,"c":0.5},{"x":-0.011,"y":-0.16,"c":0.5},{"x":-0.011,"y":0.24,"c":0.5},{"x":-0.011,"y":-0.24,"c":0.5},
{"x":-0.006,"y":0,"c":0.6},{"x":-0.006,"y":0.08,"c":0.6},{"x":-0.006,"y":-0.08,"c":0.6},{"x":-0.006,"y":0.16,"c":0.6},
{"x":0,"y":0,"c":0.5},{"x":0,"y":0.08,"c":0.5},{"x":0,"y":-0.08,"c":0.5},{"x":0,"y":0.16,"c":0.5},{"x":0,"y":-0.16,"c":0.5},{"x":0,"y":0.24,"c":0.5},{"x":0,"y":-0.24,"c":0.5},
{"x":0.009,"y":0,"c":0.65},{"x":0.009,"y":0.08,"c":0.65},{"x":0.009,"y":-0.08,"c":0.65},{"x":0.009,"y":0.16,"c":0.65},
{"x":0.024,"y":0,"c":0.72},{"x":0.024,"y":0.08,"c":0.72},{"x":0.024,"y":-0.08,"c":0.72},{"x":0.024,"y":0.16,"c":0.72},
{"x":0.07,"y":0,"c":0.92},{"x":0.07,"y":0.08,"c":0.92},{"x":0.07,"y":-0.08,"c":0.92},{"x":0.07,"y":0.16,"c":0.92},
{"x":0.076,"y":0,"c":0.95},{"x":0.076,"y":0.08,"c":0.95},{"x":0.076,"y":-0.08,"c":0.95},{"x":0.076,"y":0.16,"c":0.95},
{"x":0.081,"y":0,"c":0.9},{"x":0.081,"y":0.08,"c":0.9},{"x":0.081,"y":-0.08,"c":0.9},{"x":0.081,"y":0.16,"c":0.9},
{"x":0.086,"y":0,"c":0.95},{"x":0.086,"y":0.08,"c":0.95},{"x":0.086,"y":-0.08,"c":0.95},{"x":0.086,"y":0.16,"c":0.95},
{"x":0.091,"y":0,"c":1},{"x":0.091,"y":0.08,"c":1},{"x":0.091,"y":-0.08,"c":1},{"x":0.091,"y":0.16,"c":1},
{"x":0.097,"y":0,"c":0.95},{"x":0.097,"y":0.08,"c":0.95},{"x":0.097,"y":-0.08,"c":0.95},{"x":0.097,"y":0.16,"c":0.95},
{"x":0.102,"y":0,"c":0.92},{"x":0.102,"y":0.08,"c":0.92},{"x":0.102,"y":-0.08,"c":0.92},{"x":0.102,"y":0.16,"c":0.92},
{"x":0.107,"y":0,"c":0.95},{"x":0.107,"y":0.08,"c":0.95},{"x":0.107,"y":-0.08,"c":0.95},{"x":0.107,"y":0.16,"c":0.95}
]
},
"spacing":40.6,
"hconcat":[
{
"title":{"text":"(a)","orient":"bottom","anchor":"start","font":"Liberation Serif","fontSize":30,"fontWeight":"normal","color":"#000","offset":81,"dx":-8.4,"baseline":"alphabetic"},
"spacing":23,
"hconcat":[
{"width":376,"height":343,
"title":{"text":"SHAP Summary Plot for Force","fontSize":17,"fontWeight":"normal","color":"#000","offset":-14,"baseline":"alphabetic"},
"encoding":{"x":{"field":"x","type":"quantitative","scale":{"domain":[-0.512,0.518],"nice":false,"zero":false},
"axis":{"values":[-0.4,-0.2,0,0.2,0.4],"format":".1f","title":"SHAP Value","grid":false,"domainColor":"#000","domainWidth":1,"tickColor":"#000","tickSize":4,"tickWidth":1,"labelFontSize":14,"labelColor":"#000","labelPadding":2,"labelFlush":false,"titleFontSize":17,"titleFontWeight":"normal","titleColor":"#000","titlePadding":1}}},
"layer":[
{"data":{"values":[{"x":0}]},"mark":{"type":"rule","color":"#999999","strokeWidth":1.5},"encoding":{}},
{"data":{"name":"F"},"mark":{"type":"circle","size":9,"opacity":1},
"encoding":{
"y":{"field":"y","type":"quantitative","scale":{"domain":[-1,5],"nice":false,"zero":false},
"axis":{"values":[0,1,2,3,4],"labelExpr":"['(0.57, 52.94°)','(5.00, 31.76°)','(4.45, 10.59°)','(3.89, 10.59°)','(0.02, 10.59°)'][datum.value]","title":"Top 5 Features (r, θ)","domain":false,"ticks":false,"tickSize":0,"labelPadding":17,"labelFontSize":14.5,"labelColor":"#000","grid":true,"gridColor":"#cccccc","gridDash":[1,4],"gridWidth":0.8,"titleFontSize":17,"titleFontWeight":"normal","titleColor":"#000","titlePadding":1}},
"color":{"field":"c","type":"quantitative","scale":{"domain":[0,0.125,0.25,0.375,0.5,0.625,0.75,0.875,1],"range":["#008bfb","#0078f3","#4b63e3","#7d49cd","#9b24ad","#c2009c","#e00086","#f5006c","#ff0051"]},"legend":null}}}
]},
{"width":6,"height":343,
"data":{"values":[{"lo":0,"hi":1}]},
"mark":{"type":"rect","color":{"gradient":"linear","x1":0,"y1":1,"x2":0,"y2":0,"stops":[{"offset":0,"color":"#008bfb"},{"offset":0.125,"color":"#0078f3"},{"offset":0.25,"color":"#4b63e3"},{"offset":0.375,"color":"#7d49cd"},{"offset":0.5,"color":"#9b24ad"},{"offset":0.625,"color":"#c2009c"},{"offset":0.75,"color":"#e00086"},{"offset":0.875,"color":"#f5006c"},{"offset":1,"color":"#ff0051"}]}},
"encoding":{"y":{"field":"lo","type":"quantitative","scale":{"domain":[0,1],"nice":false,"zero":false},
"axis":{"orient":"right","values":[0,1],"labelExpr":"datum.value > 0.5 ? 'High' : 'Low'","domain":false,"ticks":false,"tickSize":0,"grid":false,"labelPadding":2,"labelFontSize":8,"labelColor":"#333","labelFlush":false,"labelOverlap":false,"labelBaseline":"middle","title":"Feature value","titleFontSize":8,"titleFontWeight":"normal","titleColor":"#333","titleAngle":270,"titleBaseline":"top","titlePadding":1}},
"y2":{"field":"hi"}}}
]
},
{
"title":{"text":"(b)","orient":"bottom","anchor":"start","font":"Liberation Serif","fontSize":30,"fontWeight":"normal","color":"#000","offset":81,"dx":-11.7,"baseline":"alphabetic"},
"spacing":22,
"hconcat":[
{"width":369,"height":343,
"title":{"text":"SHAP Summary Plot for Angle","fontSize":17,"fontWeight":"normal","color":"#000","offset":-14,"baseline":"alphabetic"},
"encoding":{"x":{"field":"x","type":"quantitative","scale":{"domain":[-0.309,0.272],"nice":false,"zero":false},
"axis":{"values":[-0.3,-0.2,-0.1,0,0.1,0.2],"format":".1f","title":"SHAP Value","grid":false,"domainColor":"#000","domainWidth":1,"tickColor":"#000","tickSize":4,"tickWidth":1,"labelFontSize":14,"labelColor":"#000","labelPadding":2,"labelFlush":false,"titleFontSize":17,"titleFontWeight":"normal","titleColor":"#000","titlePadding":1}}},
"layer":[
{"data":{"values":[{"x":0}]},"mark":{"type":"rule","color":"#999999","strokeWidth":1.5},"encoding":{}},
{"data":{"name":"A"},"mark":{"type":"circle","size":9,"opacity":1},
"encoding":{
"y":{"field":"y","type":"quantitative","scale":{"domain":[-1,5],"nice":false,"zero":false},
"axis":{"values":[0,1,2,3,4],"labelExpr":"['(0.57, 116.47°)','(2.23, 10.59°)','(0.57, 137.65°)','(0.02, 137.65°)','(5.00, 10.59°)'][datum.value]","title":"Top 5 Features (r, θ)","domain":false,"ticks":false,"tickSize":0,"labelPadding":16,"labelFontSize":14.5,"labelColor":"#000","grid":true,"gridColor":"#cccccc","gridDash":[1,4],"gridWidth":0.8,"titleFontSize":17,"titleFontWeight":"normal","titleColor":"#000","titlePadding":1}},
"color":{"field":"c","type":"quantitative","scale":{"domain":[0,0.125,0.25,0.375,0.5,0.625,0.75,0.875,1],"range":["#008bfb","#0078f3","#4b63e3","#7d49cd","#9b24ad","#c2009c","#e00086","#f5006c","#ff0051"]},"legend":null}}}
]},
{"width":6,"height":343,
"data":{"values":[{"lo":0,"hi":1}]},
"mark":{"type":"rect","color":{"gradient":"linear","x1":0,"y1":1,"x2":0,"y2":0,"stops":[{"offset":0,"color":"#008bfb"},{"offset":0.125,"color":"#0078f3"},{"offset":0.25,"color":"#4b63e3"},{"offset":0.375,"color":"#7d49cd"},{"offset":0.5,"color":"#9b24ad"},{"offset":0.625,"color":"#c2009c"},{"offset":0.75,"color":"#e00086"},{"offset":0.875,"color":"#f5006c"},{"offset":1,"color":"#ff0051"}]}},
"encoding":{"y":{"field":"lo","type":"quantitative","scale":{"domain":[0,1],"nice":false,"zero":false},
"axis":{"orient":"right","values":[0,1],"labelExpr":"datum.value > 0.5 ? 'High' : 'Low'","domain":false,"ticks":false,"tickSize":0,"grid":false,"labelPadding":2,"labelFontSize":8,"labelColor":"#333","labelFlush":false,"labelOverlap":false,"labelBaseline":"middle","title":"Feature value","titleFontSize":8,"titleFontWeight":"normal","titleColor":"#333","titleAngle":270,"titleBaseline":"top","titlePadding":1}},
"y2":{"field":"hi"}}}
]
}
]
}
